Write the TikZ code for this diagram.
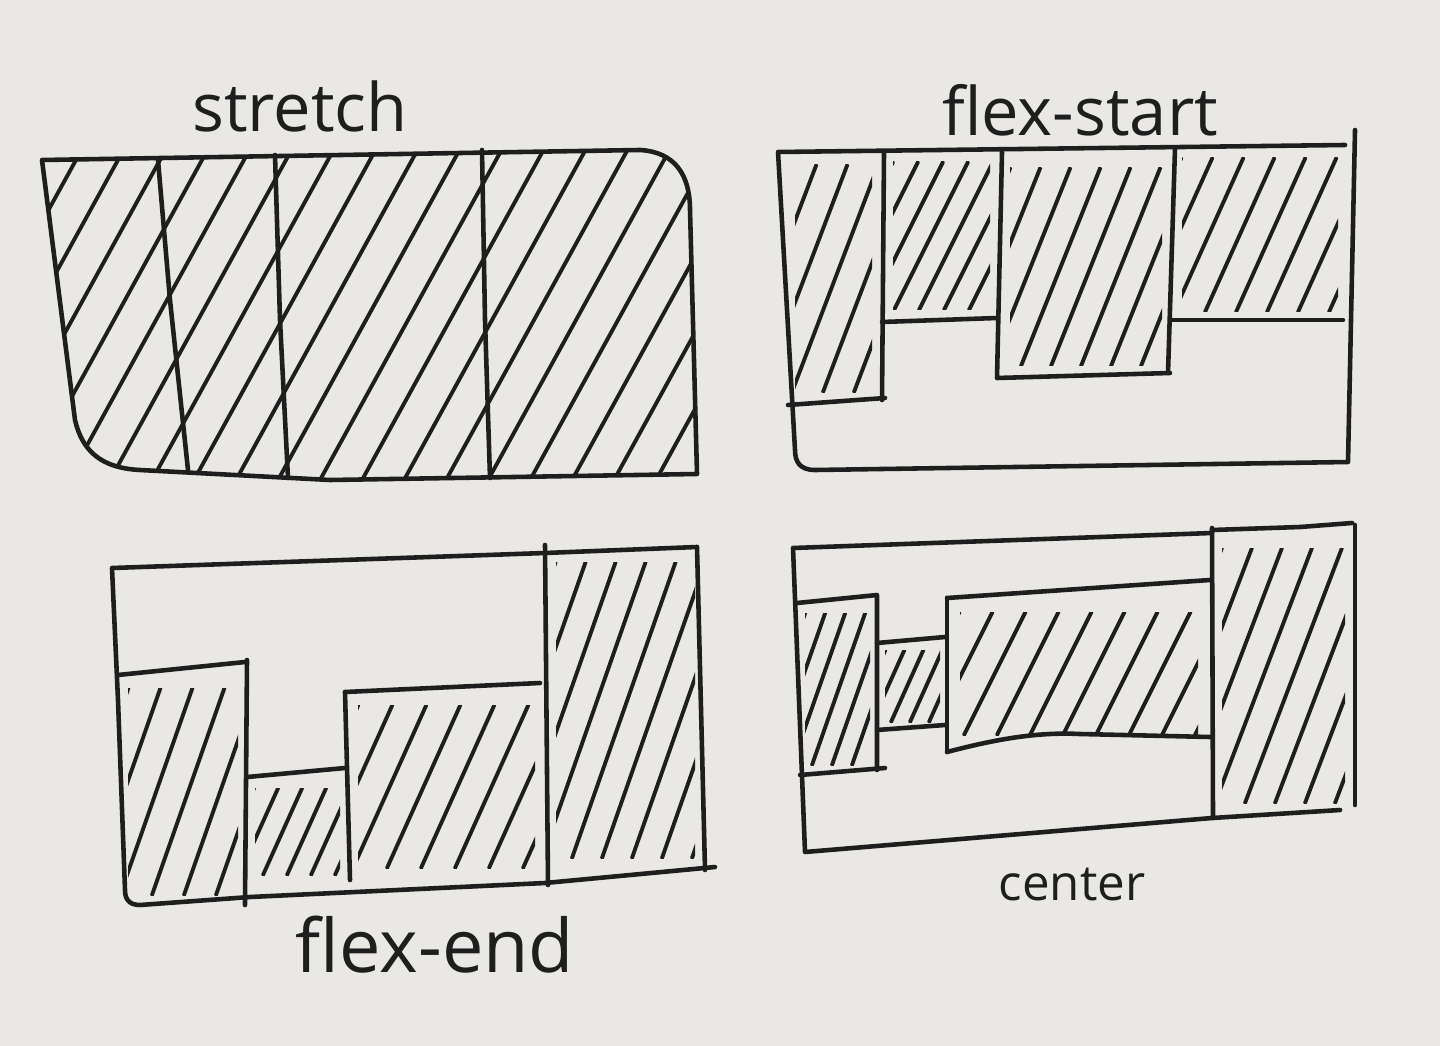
\documentclass[tikz,border=0pt]{standalone}
\usepackage{fontspec}
\setmainfont{Open Sans}
\usepackage{tikz}
\definecolor{paper}{RGB}{233,232,228}
\definecolor{ink}{RGB}{30,30,30}

% #1 first x, #2 top y, #3 bottom y, #4 gap, #5 lean
\newcommand{\hatchlines}[5]{%
  \foreach \k in {0,...,30}{
    \draw[hatchline] ({#1+\k*#4},#3) -- ({#1+\k*#4+#5*(#3-#2)},#2);
  }%
}

\begin{document}
\begin{tikzpicture}[x=0.01cm, y=-0.01cm,
  penline/.style={ink, line width=1.3pt, line cap=round, line join=round},
  hatchline/.style={ink, line width=1.1pt, line cap=round},
  titletext/.style={ink, font=\fontsize{19}{22}\selectfont}]

\fill[paper] (0,0) rectangle (1440,1046);

%% ===================== Panel: stretch =====================
\begin{scope}
  \begin{scope}
    \clip (42,160) -- (640,150) .. controls (675,152) and (690,175) .. (690,210)
      -- (697,474) -- (330,480) -- (140,470) .. controls (100,468) and (82,450) .. (75,420) -- cycle;
    \hatchlines{-142}{145}{480}{42}{0.55}
  \end{scope}
  \draw[penline] (42,160) -- (640,150) .. controls (675,152) and (690,175) .. (690,210)
    -- (697,474) -- (330,480) -- (140,470) .. controls (100,468) and (82,450) .. (75,420) -- cycle;

  % item borders
  \draw[penline] (158,160) -- (170,300) -- (188,470);
  \draw[penline] (275,155) -- (280,320) -- (288,478);
  \draw[penline] (482,150) -- (485,320) -- (490,478);

  \node[titletext] (stretchtitle) at (300,106) {stretch};
\end{scope}

%% ===================== Panel: flex-start =====================
\begin{scope}
  % hatching, one clip per item
  \begin{scope}
    \clip (795,165) rectangle (872,392);
    \hatchlines{699}{165}{392}{31}{0.38}
  \end{scope}
  \begin{scope}
    \clip (893,162) rectangle (990,310);
    \hatchlines{819}{162}{310}{25}{0.5}
  \end{scope}
  \begin{scope}
    \clip (1010,168) rectangle (1162,366);
    \hatchlines{931}{168}{366}{30}{0.4}
  \end{scope}
  \begin{scope}
    \clip (1182,158) rectangle (1338,312);
    \hatchlines{1112}{158}{312}{31}{0.45}
  \end{scope}

  % container
  \draw[penline] (1355,130) -- (1348,462) -- (815,470) .. controls (800,470) and (795,462) .. (795,450)
    -- (778,152) -- (1345,145);

  % items
  \draw[penline] (884,152) -- (882,400);
  \draw[penline] (788,405) -- (885,398);
  \draw[penline] (882,322) -- (997,318);
  \draw[penline] (1002,152) -- (997,378) -- (1170,373);
  \draw[penline] (1175,148) -- (1168,373);
  \draw[penline] (1170,320) -- (1343,320);

  \node[titletext] (starttitle) at (1080,110) {flex-start};
\end{scope}

%% ===================== Panel: flex-end =====================
\begin{scope}
  \begin{scope}
    \clip (128,688) rectangle (238,895);
    \hatchlines{56}{688}{895}{32}{0.35}
  \end{scope}
  \begin{scope}
    \clip (255,788) rectangle (340,875);
    \hatchlines{215}{788}{875}{24}{0.45}
  \end{scope}
  \begin{scope}
    \clip (358,705) rectangle (535,868);
    \hatchlines{285}{705}{868}{34}{0.45}
  \end{scope}
  \begin{scope}
    \clip (556,562) rectangle (695,858);
    \hatchlines{452}{562}{858}{30}{0.35}
  \end{scope}

  % container
  \draw[penline] (697,547) -- (705,870);
  \draw[penline] (715,867) -- (545,883) -- (250,897) -- (140,905) .. controls (128,905) and (125,898) .. (125,890)
    -- (118,700) -- (112,568) -- (545,553) -- (697,547);

  % items
  \draw[penline] (118,675) -- (245,662);
  \draw[penline] (247,660) -- (245,905);
  \draw[penline] (247,777) -- (345,768);
  \draw[penline] (345,692) -- (350,880);
  \draw[penline] (345,692) -- (540,683);
  \draw[penline] (545,545) -- (548,885);

  \node[titletext, font=\fontsize{21}{24}\selectfont] (endtitle) at (435,945) {flex-end};
\end{scope}

%% ===================== Panel: center =====================
\begin{scope}
  \begin{scope}
    \clip (805,613) rectangle (870,765);
    \hatchlines{752}{613}{765}{20}{0.35}
  \end{scope}
  \begin{scope}
    \clip (885,650) rectangle (940,722);
    \hatchlines{853}{650}{722}{19}{0.45}
  \end{scope}
  \begin{scope}
    \clip (960,612) rectangle (1198,735);
    \hatchlines{898}{612}{735}{33}{0.5}
  \end{scope}
  \begin{scope}
    \clip (1222,548) rectangle (1345,803);
    \hatchlines{1125}{548}{803}{30}{0.38}
  \end{scope}

  % container
  \draw[penline] (1355,525) -- (1355,805);
  \draw[penline] (1340,810) -- (1212,818) -- (805,852) -- (793,548) -- (1212,533);
  \draw[penline] (1212,530) -- (1300,527) -- (1352,523);

  % items
  \draw[penline] (1212,528) -- (1213,818);
  \draw[penline] (797,603) -- (877,595) -- (877,770);
  \draw[penline] (800,775) -- (885,768);
  \draw[penline] (877,643) -- (945,637);
  \draw[penline] (877,730) -- (945,725);
  \draw[penline] (947,598) -- (947,752);
  \draw[penline] (947,598) -- (1210,580);
  \draw[penline] (947,752) .. controls (1000,738) and (1040,732) .. (1080,734) -- (1210,737);

  \node[titletext, font=\fontsize{14}{17}\selectfont] (centertitle) at (1072,885) {center};
\end{scope}

\end{tikzpicture}
\end{document}
